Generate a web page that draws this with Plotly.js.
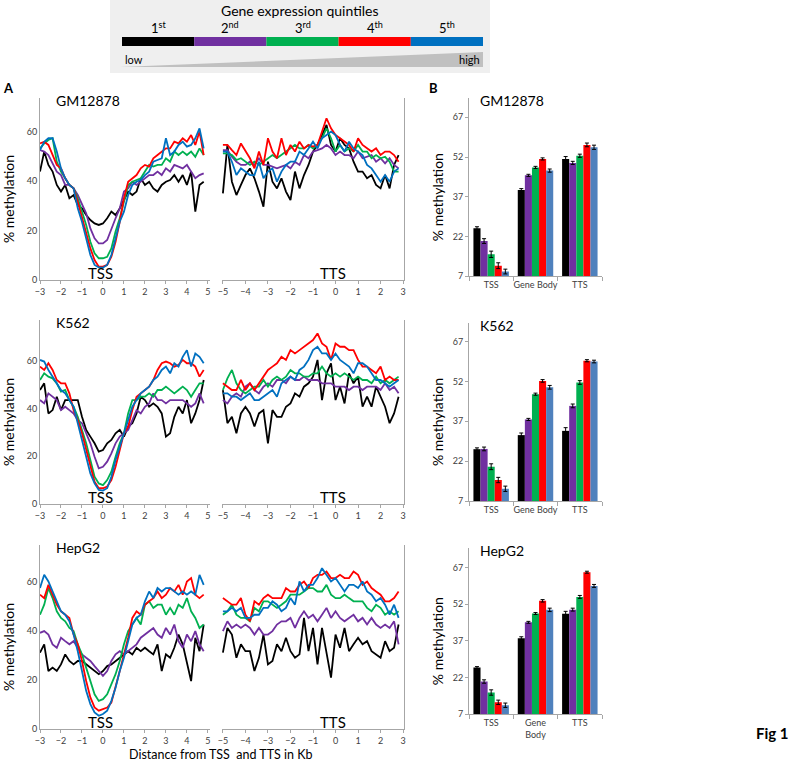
<!DOCTYPE html>
<html><head><meta charset="utf-8">
<script src="https://cdn.plot.ly/plotly-3.0.1.min.js"></script>
<style>body{margin:0;background:#fff}#chart{width:792px;height:762px}</style>
</head><body><div id="chart"></div>
<script>
// ---------- DATA ----------
const quintileLabels = ['1<sup>st</sup>','2<sup>nd</sup>','3<sup>rd</sup>','4<sup>th</sup>','5<sup>th</sup>'];
const cellLines = ['GM12878','K562','HepG2'];
const tssX = [-3,-2.8,-2.6,-2.4,-2.2,-2.0,-1.8,-1.6,-1.4,-1.2,-1.0,-0.8,-0.6,-0.4,-0.2,0,0.2,0.4,0.6,0.8,1.0,1.2,1.4,1.6,1.8,2.0,2.2,2.4,2.6,2.8,3.0,3.2,3.4,3.6,3.8,4.0,4.2,4.4,4.6,4.8];
const ttsX = [-5,-4.8,-4.6,-4.4,-4.2,-4.0,-3.8,-3.6,-3.4,-3.2,-3.0,-2.8,-2.6,-2.4,-2.2,-2.0,-1.8,-1.6,-1.4,-1.2,-1.0,-0.8,-0.6,-0.4,-0.2,0,0.2,0.4,0.6,0.8,1.0,1.2,1.4,1.6,1.8,2.0,2.2,2.4,2.6,2.8];
const tssTicks = [-3,-2,-1,0,1,2,3,4,5];
const ttsTicks = [-5,-4,-3,-2,-1,0,1,2,3];
const lineYTicks = [0,20,40,60];
const barYTicks = [7,22,37,52,67];
const regions = ['TSS','Gene Body','TTS'];
const regionsWrapped = ['TSS','Gene<br>Body','TTS'];

// GM12878 TSS profiles (quintile 1..5)
const gmTssQ1 = [43.9,52.0,46.6,43.9,38.5,35.8,38.5,33.1,34.4,30.4,29.0,26.3,24.3,22.9,22.3,22.9,25.0,27.7,26.3,29.0,32.4,35.8,34.4,35.8,41.2,38.5,39.8,37.1,35.8,38.5,39.8,40.5,42.5,39.8,42.5,38.5,43.9,27.7,38.5,39.8];
const gmTssQ2 = [52.6,52.0,50.6,47.2,43.9,42.5,38.5,38.5,37.1,34.4,31.0,27.0,20.9,16.9,14.8,14.8,16.2,20.9,25.0,29.0,35.8,37.1,39.8,38.5,39.8,41.2,42.5,42.5,43.9,42.5,45.2,43.9,46.6,45.9,45.2,46.6,43.9,41.2,42.5,43.2];
const gmTssQ3 = [53.3,55.3,56.7,57.4,47.9,43.9,41.2,38.5,37.1,33.1,27.7,22.3,15.5,10.8,8.8,8.8,9.4,12.8,19.6,25.0,31.7,38.5,39.8,40.5,41.2,43.9,46.6,45.9,46.6,46.6,49.3,47.9,52.0,50.6,52.0,50.6,52.0,49.9,53.3,50.6];
const gmTssQ4 = [55.3,56.0,54.7,50.6,46.6,45.2,41.2,38.5,37.1,31.7,25.0,18.9,12.8,8.1,5.4,5.4,6.1,9.4,15.5,23.6,33.1,39.8,41.2,42.5,45.2,46.6,45.9,49.3,50.6,52.0,53.3,53.3,56.0,55.3,57.4,56.0,58.7,54.7,60.1,50.6];
const gmTssQ5 = [52.6,56.0,57.4,57.4,52.0,45.2,41.2,38.5,37.1,29.0,23.6,16.9,10.1,6.1,5.1,5.0,6.1,10.1,16.9,23.6,27.7,34.4,38.5,39.8,40.5,42.5,43.9,47.9,48.6,49.3,57.4,50.6,52.0,54.7,56.0,54.0,54.7,57.4,61.4,53.3];
// GM12878 TTS profiles
const gmTtsQ1 = [35.1,54.7,39.8,34.4,38.5,42.5,45.2,41.2,35.8,29.7,47.9,39.8,37.1,41.2,35.8,32.4,43.9,37.1,42.5,46.6,52.0,54.7,58.7,62.8,54.7,52.0,57.4,54.7,53.3,47.9,43.9,43.9,41.2,42.5,38.5,37.1,42.5,37.1,46.6,50.6];
const gmTtsQ2 = [52.6,52.6,49.9,47.9,46.6,46.6,47.9,46.6,49.3,46.6,46.6,45.9,45.2,45.9,46.6,45.2,47.9,46.6,50.6,49.3,52.0,52.6,53.3,54.7,53.3,50.6,52.0,50.6,50.6,49.3,52.0,49.3,49.9,50.6,47.9,49.3,47.2,49.3,46.6,45.2];
const gmTtsQ3 = [51.3,51.3,50.6,48.6,49.3,47.9,46.6,47.9,46.6,47.9,49.3,50.6,49.3,50.6,52.0,53.3,54.7,53.3,53.3,54.7,53.3,54.7,57.4,61.4,57.4,52.0,54.7,52.0,53.3,52.0,54.7,52.0,52.0,49.3,50.6,49.3,49.9,47.9,43.9,43.9];
const gmTtsQ4 = [54.7,54.7,52.6,50.6,55.3,52.0,49.3,45.2,52.0,46.6,57.4,52.0,49.3,57.4,50.6,54.7,52.0,56.0,53.3,54.7,54.0,54.7,60.1,65.5,61.4,58.7,57.4,56.0,54.7,52.0,57.4,54.7,53.3,52.0,53.3,50.6,52.0,52.0,50.6,47.9];
const gmTtsQ5 = [52.0,52.0,47.9,42.5,45.2,43.9,42.5,42.5,47.9,41.2,43.9,45.2,39.8,43.9,46.6,47.9,47.9,52.0,50.6,53.3,56.0,53.3,57.4,58.7,60.1,58.7,54.7,52.0,56.0,53.3,52.0,50.6,46.6,45.2,42.5,39.8,42.5,39.8,43.9,45.2];

// K562 TSS profiles
const kTssQ1 = [47.7,50.5,37.9,39.3,44.9,39.3,43.5,43.5,43.5,43.5,36.5,31.0,28.2,25.4,21.9,22.6,25.4,26.8,29.6,31.0,28.2,32.4,33.8,37.9,44.9,43.5,40.7,42.1,40.7,37.9,28.2,29.6,36.5,40.7,37.9,43.5,33.8,37.9,43.5,51.9];
const kTssQ2 = [43.5,42.1,46.3,44.9,43.5,39.3,40.7,39.3,37.9,35.1,33.8,29.6,25.4,19.8,14.9,15.6,17.7,21.2,25.4,28.2,29.6,31.0,35.1,39.3,37.9,40.7,42.1,46.3,43.5,43.5,42.1,43.5,43.5,43.5,43.5,42.1,40.7,42.1,46.3,42.1];
const kTssQ3 = [51.9,54.7,53.3,52.6,50.5,47.0,47.7,43.5,40.7,36.5,31.0,25.4,18.4,11.4,8.6,7.9,10.0,13.5,19.8,25.4,29.6,37.9,43.5,43.5,44.9,44.9,46.3,44.9,47.7,47.7,49.1,47.7,46.3,47.7,49.1,47.7,44.9,47.7,50.5,50.5];
const kTssQ4 = [57.5,56.1,58.9,56.1,51.9,50.5,50.5,46.3,39.3,35.1,29.6,22.6,15.6,9.3,6.6,6.6,7.3,10.0,15.6,22.6,29.6,32.4,39.3,44.9,46.3,47.7,49.1,51.9,56.1,58.9,59.6,58.9,57.5,58.2,60.3,58.9,58.9,57.5,53.3,56.1];
const kTssQ5 = [60.3,59.6,56.1,53.3,50.5,47.7,46.3,43.5,40.7,33.8,26.8,19.8,12.8,8.6,5.9,5.6,6.6,11.4,18.4,24.0,29.6,35.1,40.7,43.5,46.3,47.7,49.1,51.9,53.3,56.1,57.5,54.7,58.9,57.5,61.6,64.4,57.5,63.0,61.6,58.9];
// K562 TTS profiles
const kTtsQ1 = [47.7,33.8,36.5,29.6,37.9,40.7,37.9,32.4,37.9,39.3,25.4,39.3,36.5,36.5,40.7,42.1,46.3,44.9,49.1,50.5,53.3,60.3,43.5,54.7,58.9,43.5,49.1,42.1,54.7,50.5,53.3,40.7,44.9,40.7,49.1,44.9,40.7,33.8,37.9,44.9];
const kTtsQ2 = [43.5,42.1,44.9,46.3,44.9,49.1,50.5,47.7,46.3,49.1,50.5,49.1,51.9,51.9,50.5,53.3,51.9,51.9,53.3,51.9,51.9,51.9,50.5,50.5,50.5,49.1,49.1,49.1,47.7,49.1,49.1,47.7,49.1,49.1,49.1,47.7,50.5,47.7,49.1,46.3];
const kTtsQ3 = [47.7,52.6,56.1,50.5,47.7,46.3,47.7,49.1,49.1,51.9,49.1,51.9,53.3,51.9,53.3,56.1,54.7,54.7,53.3,53.3,54.7,54.7,57.5,54.7,53.3,54.7,53.3,54.7,53.3,51.9,53.3,51.9,51.9,50.5,53.3,50.5,51.9,50.5,51.9,53.3];
const kTtsQ4 = [50.5,49.1,47.7,47.7,51.9,47.7,50.5,47.7,50.5,53.3,56.1,57.5,58.9,61.6,60.3,64.4,63.0,64.4,65.8,67.2,68.6,71.4,67.2,65.8,60.3,67.2,65.8,65.8,64.4,64.4,60.3,57.5,57.5,56.1,54.7,57.5,51.9,53.3,51.9,51.9];
const kTtsQ5 = [46.3,46.3,44.9,44.9,43.5,44.9,46.3,43.5,43.5,44.9,46.3,47.7,44.9,50.5,51.9,53.3,51.9,56.1,57.5,60.3,64.4,65.8,63.0,63.0,60.3,63.0,60.3,58.9,57.5,54.7,58.9,58.9,57.5,54.7,51.9,51.9,50.5,49.1,50.5,51.9];

// HepG2 TSS profiles
const hTssQ1 = [31.2,34.6,23.7,25.1,23.7,26.4,30.5,27.8,26.4,27.8,27.8,26.4,25.1,23.7,22.4,23.7,25.7,26.4,27.8,29.1,30.5,31.8,30.5,33.2,31.8,33.2,31.8,30.5,34.6,23.7,30.5,29.1,33.2,38.6,34.6,26.4,19.6,37.3,31.8,42.7];
const hTssQ2 = [39.3,40.0,38.6,34.6,33.2,37.3,35.9,34.6,35.9,33.2,30.5,29.1,27.8,25.7,23.7,21.7,23.7,27.8,30.5,31.8,30.5,31.8,33.2,34.6,37.3,38.6,40.0,41.3,38.6,37.3,41.3,38.6,42.7,35.9,33.2,38.6,35.9,40.0,34.6,31.8];
const hTssQ3 = [46.7,50.8,57.6,53.5,48.1,45.4,44.0,41.3,40.0,34.6,30.5,25.1,19.6,14.2,11.5,12.2,14.2,18.3,22.4,27.8,34.6,40.0,42.7,45.4,42.7,50.8,52.2,49.5,50.8,50.8,46.7,49.5,46.7,50.8,49.5,53.5,48.1,45.4,41.3,42.7];
const hTssQ4 = [54.9,53.5,58.9,54.9,50.8,48.1,46.7,45.4,38.6,34.6,27.8,19.6,12.9,8.8,7.5,8.1,8.8,10.8,16.9,23.7,30.5,37.3,45.4,48.1,46.7,50.8,52.2,53.5,56.2,53.5,54.9,57.6,56.2,58.9,54.9,60.3,61.7,54.9,53.5,54.9];
const hTssQ5 = [57.6,63.0,60.3,56.2,52.2,48.1,46.7,44.0,38.6,31.8,23.7,15.6,10.2,6.8,5.4,6.1,7.5,11.5,16.9,23.7,29.1,35.9,42.7,45.4,46.7,52.2,56.2,53.5,57.6,56.2,57.6,57.6,56.2,54.9,56.2,54.9,56.2,54.9,63.0,58.9];
// HepG2 TTS profiles
const hTtsQ1 = [31.2,41.3,38.6,29.1,34.6,31.8,31.8,23.7,29.1,38.6,26.4,27.8,34.6,31.8,37.3,31.8,29.1,30.5,45.4,31.8,41.3,26.4,41.3,31.8,21.0,38.6,33.2,41.3,31.8,34.6,37.3,34.6,35.9,31.8,30.5,29.1,35.9,31.8,33.2,42.7];
const hTtsQ2 = [40.0,44.0,41.3,42.7,41.3,42.7,41.3,38.6,41.3,38.6,38.6,40.0,42.7,44.0,44.0,45.4,41.3,45.4,48.1,45.4,46.7,44.0,46.7,49.5,45.4,48.1,45.4,44.0,45.4,46.7,44.0,45.4,42.7,45.4,42.7,41.3,42.7,41.3,44.0,34.6];
const hTtsQ3 = [46.7,48.1,50.8,46.7,45.4,45.4,44.0,49.5,48.1,52.2,52.2,50.8,49.5,50.8,52.2,54.9,54.9,54.9,56.2,57.6,57.6,56.2,56.2,58.9,54.9,53.5,53.5,54.9,53.5,52.2,52.2,52.2,49.5,48.1,50.8,49.5,46.7,48.1,46.7,48.1];
const hTtsQ4 = [53.5,52.2,50.8,50.8,53.5,46.7,44.0,52.2,50.8,53.5,54.9,53.5,53.5,53.5,57.6,56.2,56.2,58.9,60.3,57.6,61.7,63.0,63.0,64.4,61.7,61.7,63.0,61.7,61.7,64.4,63.0,58.9,60.3,57.6,56.2,54.9,52.2,52.2,53.5,56.2];
const hTtsQ5 = [48.1,48.1,49.5,48.1,49.5,45.4,45.4,46.7,46.7,49.5,49.5,52.2,50.8,48.1,49.5,53.5,50.8,60.3,56.2,58.9,58.9,61.7,65.7,63.0,60.3,61.7,58.9,56.2,58.9,58.9,57.6,60.3,56.2,54.9,52.2,53.5,50.8,46.7,50.8,45.4];

// Panel B: mean % methylation [TSS, Gene Body, TTS] and error
const gmBarQ1 = [25.1,39.6,51.3], gmBarQ2 = [20.3,45.1,49.8], gmBarQ3 = [15.3,48.1,52.5], gmBarQ4 = [11.0,51.3,56.6], gmBarQ5 = [8.8,46.9,55.7];
const gmErrQ1 = [0.6,0.5,0.9], gmErrQ2 = [0.9,0.4,0.6], gmErrQ3 = [1.2,0.4,0.6], gmErrQ4 = [1.1,0.4,0.7], gmErrQ5 = [0.9,0.6,0.8];
const kBarQ1 = [26.5,31.8,33.4], kBarQ2 = [26.6,37.7,42.8], kBarQ3 = [19.9,47.2,51.6], kBarQ4 = [14.9,52.2,59.8], kBarQ5 = [11.6,49.8,59.5];
const kErrQ1 = [0.5,0.8,1.2], kErrQ2 = [0.7,0.4,0.7], kErrQ3 = [1.1,0.4,0.7], kErrQ4 = [1.0,0.5,0.4], kErrQ5 = [1.0,0.7,0.5];
const hBarQ1 = [26.1,38.1,48.1], hBarQ2 = [20.4,44.6,49.8], hBarQ3 = [15.9,48.2,55.0], hBarQ4 = [11.9,53.4,65.1], hBarQ5 = [10.7,49.7,59.5];
const hErrQ1 = [0.4,0.6,1.0], hErrQ2 = [0.7,0.4,0.6], hErrQ3 = [1.1,0.4,0.6], hErrQ4 = [0.9,0.5,0.4], hErrQ5 = [0.9,0.7,0.6];

// ---------- STYLE / LAYOUT ----------
const lineColors = ['#000000','#7030A0','#00B050','#FF0000','#0070C0'];
const barColors = ['#000000','#7030A0','#00B050','#FF0000','#4F81BD'];
const W = 792, H = 762;
const fx = p => p / W, fy = p => 1 - p / H;
const FONT = 'Lato, "Open Sans", sans-serif';
const AX = '#A6A6A6';

const cells = [
  {tss:[gmTssQ1,gmTssQ2,gmTssQ3,gmTssQ4,gmTssQ5], tts:[gmTtsQ1,gmTtsQ2,gmTtsQ3,gmTtsQ4,gmTtsQ5],
   bar:[gmBarQ1,gmBarQ2,gmBarQ3,gmBarQ4,gmBarQ5], err:[gmErrQ1,gmErrQ2,gmErrQ3,gmErrQ4,gmErrQ5], cats:regions,
   top:98, bottom:280, ymax:73.7, bTop:98, bBottom:276.3, bMax:74.3},
  {tss:[kTssQ1,kTssQ2,kTssQ3,kTssQ4,kTssQ5], tts:[kTtsQ1,kTtsQ2,kTtsQ3,kTtsQ4,kTtsQ5],
   bar:[kBarQ1,kBarQ2,kBarQ3,kBarQ4,kBarQ5], err:[kErrQ1,kErrQ2,kErrQ3,kErrQ4,kErrQ5], cats:regions,
   top:320, bottom:504, ymax:77, bTop:323, bBottom:501, bMax:74},
  {tss:[hTssQ1,hTssQ2,hTssQ3,hTssQ4,hTssQ5], tts:[hTtsQ1,hTtsQ2,hTtsQ3,hTtsQ4,hTtsQ5],
   bar:[hBarQ1,hBarQ2,hBarQ3,hBarQ4,hBarQ5], err:[hErrQ1,hErrQ2,hErrQ3,hErrQ4,hErrQ5], cats:regionsWrapped,
   top:545, bottom:729, ymax:75.2, bTop:548, bBottom:714.3, bMax:75}
];

const traces = [];
const layout = {
  width: W, height: H, margin:{l:0,r:0,t:0,b:0},
  paper_bgcolor:'#ffffff', plot_bgcolor:'rgba(0,0,0,0)',
  showlegend:false, barmode:'group', bargap:0.2, bargroupgap:0,
  font:{family:FONT, color:'#000', size:12},
  shapes:[], annotations:[]
};
const tickFont = {size:9, color:'#404040', family:FONT};

const ann = (x, y, text, size, extra) => layout.annotations.push(Object.assign({xref:'paper', yref:'paper',
   x:fx(x), y:fy(y), text, showarrow:false, font:{size, family:FONT, color:'#000'}, xanchor:'center', yanchor:'middle'}, extra||{}));

cells.forEach((c, i) => {
  const n = i*3;
  const xa = [n+1, n+2, n+3].map(k => k===1 ? 'x' : 'x'+k);
  const ya = [n+1, n+2, n+3].map(k => k===1 ? 'y' : 'y'+k);
  const key = s => s.replace('x','xaxis').replace('y','yaxis');
  c.tss.forEach((ys, q) => traces.push({type:'scatter', mode:'lines', x:tssX, y:ys, xaxis:xa[0], yaxis:ya[0],
     line:{color:lineColors[q], width:1.8}, hoverinfo:'skip'}));
  c.tts.forEach((ys, q) => traces.push({type:'scatter', mode:'lines', x:ttsX, y:ys, xaxis:xa[1], yaxis:ya[1],
     line:{color:lineColors[q], width:1.8}, hoverinfo:'skip'}));
  c.bar.forEach((ys, q) => traces.push({type:'bar', x:c.cats, y:ys, xaxis:xa[2], yaxis:ya[2],
     marker:{color:barColors[q], line:{width:0}}, offsetgroup:String(q),
     error_y:{type:'data', array:c.err[q], visible:true, color:'#000', thickness:1, width:2}, hoverinfo:'skip'}));

  const ydom = [fy(c.bottom), fy(c.top)];
  layout[key(xa[0])] = {domain:[fx(40), fx(210)], range:[-3, 5.1], anchor:ya[0], tickvals:tssTicks, tickangle:0,
     showline:true, linecolor:AX, ticks:'outside', ticklen:3, tickcolor:AX, showgrid:false, zeroline:false,
     tickfont:tickFont, fixedrange:true};
  layout[key(ya[0])] = {domain:ydom, range:[0, c.ymax], anchor:xa[0], tickvals:lineYTicks,
     showline:true, linecolor:AX, ticks:'', showgrid:false, zeroline:false, tickfont:tickFont, fixedrange:true};
  layout[key(xa[1])] = {domain:[fx(222), fx(404)], range:[-5.04, 3.04], anchor:ya[1], tickvals:ttsTicks, tickangle:0,
     showline:true, linecolor:AX, ticks:'outside', ticklen:3, tickcolor:AX, showgrid:false, zeroline:false,
     tickfont:tickFont, fixedrange:true};
  layout[key(ya[1])] = {domain:ydom, range:[0, c.ymax], anchor:xa[1], side:'right',
     showline:true, linecolor:AX, ticks:'', showticklabels:false, showgrid:false, zeroline:false, fixedrange:true};
  layout[key(xa[2])] = {domain:[fx(469), fx(602)], anchor:ya[2], type:'category', tickangle:0,
     showline:true, linecolor:AX, ticks:'outside', tickson:'boundaries', ticklen:4, tickcolor:AX,
     showgrid:false, zeroline:false, tickfont:tickFont, fixedrange:true};
  layout[key(ya[2])] = {domain:[fy(c.bBottom), fy(c.bTop)], range:[7, c.bMax], anchor:xa[2], tickvals:barYTicks,
     showline:true, linecolor:AX, ticks:'outside', ticklen:3, tickcolor:AX, showgrid:false, zeroline:false,
     tickfont:tickFont, fixedrange:true};

  ann(54, c.top + 2, cellLines[i], 14, {xanchor:'left'});
  ann(478, c.bTop + 2, cellLines[i], 14, {xanchor:'left'});
  ann(8, (c.top + c.bottom)/2 + 10, '% methylation', 14, {textangle:-90});
  ann(437, (c.bTop + c.bBottom)/2 + 10, '% methylation', 14, {textangle:-90});
  ann(100, c.bottom - 7, 'TSS', 15);
  ann(333, c.bottom - 7, 'TTS', 15);
});

// Panel letters, axis label, figure tag
ann(8, 88, '<b>A</b>', 13);
ann(433, 88, '<b>B</b>', 13);
ann(220, 754, 'Distance from TSS  and TTS in Kb', 12.5);
ann(772, 733, '<b>Fig 1</b>', 15);

// Quintile key at top
layout.shapes.push({type:'rect', xref:'paper', yref:'paper', x0:fx(110), x1:fx(490), y0:fy(73), y1:fy(0),
   fillcolor:'#EFEFEF', line:{width:0}, layer:'below'});
const segW = (483 - 122) / 5;
lineColors.forEach((col, q) => {
  layout.shapes.push({type:'rect', xref:'paper', yref:'paper', x0:fx(122 + q*segW), x1:fx(122 + (q+1)*segW),
     y0:fy(46), y1:fy(37), fillcolor:col, line:{width:0}});
  ann(122 + (q+0.5)*segW, 27, quintileLabels[q], 13);
});
layout.shapes.push({type:'path', xref:'paper', yref:'paper',
   path:`M ${fx(120)} ${fy(67)} L ${fx(483)} ${fy(52)} L ${fx(483)} ${fy(67)} Z`, fillcolor:'#C0C0C0', line:{width:0}});
ann(300, 10, 'Gene expression quintiles', 14);
ann(123, 60, 'low', 11, {xanchor:'left'});
ann(482, 60, 'high', 11, {xanchor:'right'});

Plotly.newPlot('chart', traces, layout, {staticPlot:true, displayModeBar:false});
</script></body></html>
